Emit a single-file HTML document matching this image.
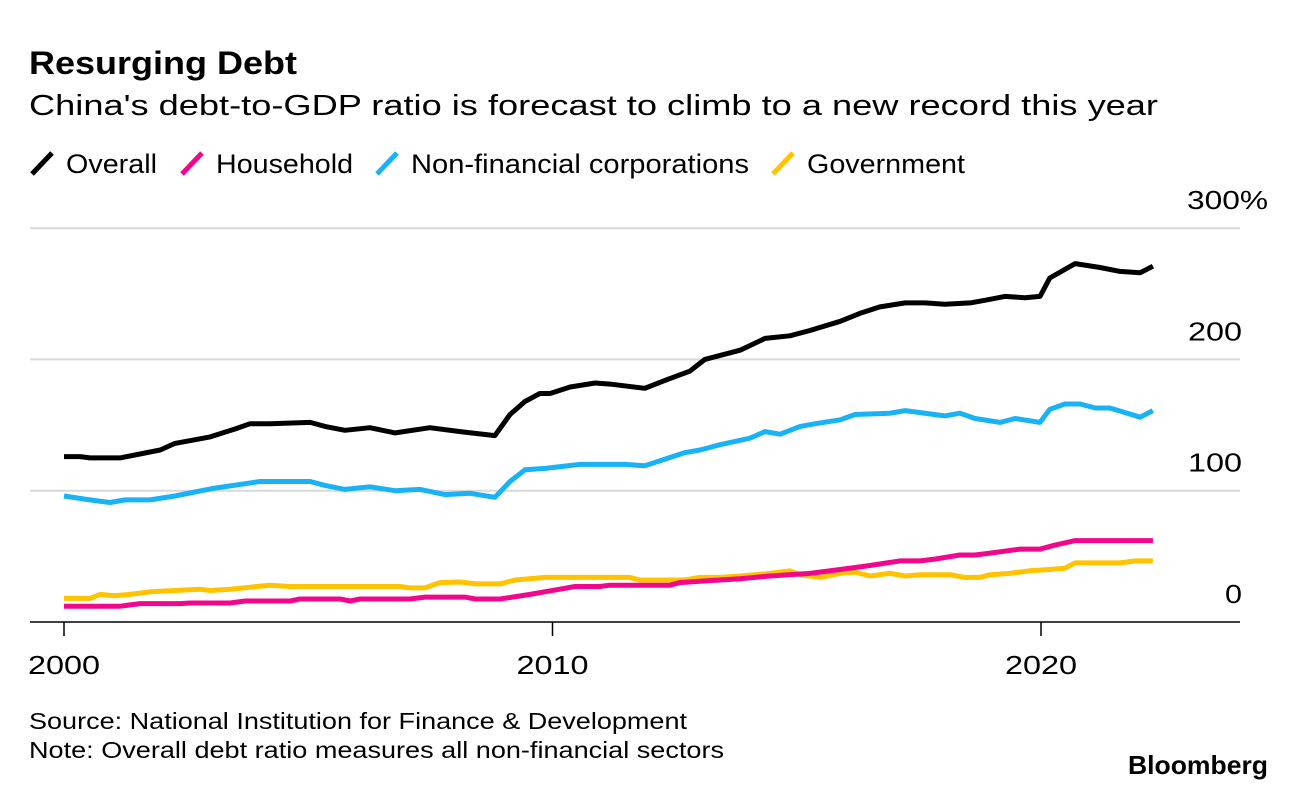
<!DOCTYPE html>
<html><head><meta charset="utf-8">
<style>
body{margin:0;background:#fff;width:1296px;height:790px;overflow:hidden;font-family:"Liberation Sans",sans-serif;}
</style></head>
<body>
<svg width="1296" height="790" xmlns="http://www.w3.org/2000/svg" font-family="Liberation Sans, sans-serif">
<text x="29" y="74" font-size="32" font-weight="bold" fill="#000" textLength="268" lengthAdjust="spacingAndGlyphs">Resurging Debt</text>
<text x="29" y="115" font-size="29" fill="#000" textLength="1129" lengthAdjust="spacingAndGlyphs">China's debt-to-GDP ratio is forecast to climb to a new record this year</text>
<g id="legend"></g>
<g id="grid"></g>
<g id="lines"></g>
<text x="29" y="729" font-size="23" fill="#000" textLength="658" lengthAdjust="spacingAndGlyphs">Source: National Institution for Finance &amp; Development</text>
<text x="29" y="758" font-size="23" fill="#000" textLength="695" lengthAdjust="spacingAndGlyphs">Note: Overall debt ratio measures all non-financial sectors</text>
<text x="1128" y="774" font-size="26" font-weight="bold" fill="#000" textLength="140" lengthAdjust="spacingAndGlyphs">Bloomberg</text>
</svg>
<script>
const yTicks=[0,100,200,300];
const yTickLabels=["0","100","200","300%"];
const xTicks=[2000,2010,2020];
const seriesNames=["Overall","Household","Non-financial corporations","Government"];
const seriesColors=["#000000","#f0078c","#19b2f5","#ffc300"];
const overallYears=[2000,2000.33,2000.53,2001.15,2001.97,2002.27,2002.99,2003.5,2003.81,2004.22,2005.04,2005.34,2005.75,2006.26,2006.78,2007.49,2008.11,2008.82,2009.13,2009.44,2009.74,2009.95,2010.36,2010.87,2011.22,2011.89,2012.3,2012.81,2013.12,2013.84,2014.35,2014.86,2015.27,2015.89,2016.29,2016.7,2017.22,2017.63,2018.03,2018.55,2018.85,2019.26,2019.67,2019.98,2020.18,2020.7,2021.21,2021.62,2022.03,2022.29];
const overallVals=[126,126,125,125,131,136,141,147,151,151,152,149,146,148,144,148,145,142,158,168,174,174,179,182,181,178,184,191,200,207,216,218,222,229,235,240,243,243,242,243,245,248,247,248,262,273,270,267,266,271];
const nfcYears=[2000,2000.53,2000.94,2001.25,2001.76,2002.27,2002.68,2003.09,2004.01,2005.04,2005.34,2005.75,2006.26,2006.78,2007.29,2007.8,2008.31,2008.82,2009.13,2009.44,2009.85,2010.56,2011.48,2011.89,2012.71,2013.02,2013.43,2014.04,2014.35,2014.66,2015.07,2015.38,2015.89,2016.19,2016.91,2017.22,2018.03,2018.34,2018.65,2019.16,2019.47,2019.98,2020.18,2020.49,2020.8,2021.11,2021.41,2022.03,2022.29];
const nfcVals=[96,93,91,93,93,96,99,102,107,107,104,101,103,100,101,97,98,95,107,116,117,120,120,119,129,131,135,140,145,143,149,151,154,158,159,161,157,159,155,152,155,152,162,166,166,163,163,156,161];
const hhYears=[2000,2001.15,2001.56,2002.38,2002.58,2003.4,2003.71,2004.63,2004.83,2005.65,2005.86,2006.06,2007.08,2007.39,2008.21,2008.42,2008.93,2009.54,2010.15,2010.46,2010.97,2011.17,2012.4,2012.61,2013.02,2013.84,2014.45,2015.27,2015.89,2016.5,2017.12,2017.53,2017.84,2018.34,2018.65,2018.96,2019.57,2019.98,2020.29,2020.7,2022.29];
const hhVals=[12,12,14,14,14.5,14.5,16,16,17.5,17.5,16,17.5,17.5,19,19,17.5,17.5,21,25,27,27,28,28,30,31,33,35,37,40,43,46.5,46.5,48,51,51,52.5,55.5,55.5,58.6,62,62];
const govYears=[2000,2000.53,2000.74,2001.04,2001.35,2001.76,2002.27,2002.78,2002.99,2003.4,2004.22,2004.63,2006.88,2007.08,2007.39,2007.7,2008.11,2008.42,2008.93,2009.23,2009.85,2010.15,2011.58,2011.79,2012.71,2013.02,2013.43,2013.84,2014.45,2014.86,2015.07,2015.48,2015.89,2016.19,2016.5,2016.91,2017.22,2017.53,2018.14,2018.44,2018.75,2018.96,2019.36,2019.77,2020.18,2020.49,2020.7,2021.62,2021.93,2022.29];
const govVals=[18,18,21,20,21,23,24,25,24,25,28,27,27,26,26,30,30.5,29,29,32,34,34,34,32,32,34,34,35,37,39,36,34,37,38,35,37,35,36,36,34,34,36,37,39,40,41,45,45,46.5,46.5];

const NS="http://www.w3.org/2000/svg";
const X0=30,X1=1240,Y0=622,PX=131.3;
const xs=y=>64+(y-2000)*48.85;
const ys=v=>Y0-v*PX/100;
function mk(tag,attrs,parent){const e=document.createElementNS(NS,tag);for(const k in attrs)e.setAttribute(k,attrs[k]);parent.appendChild(e);return e;}
const grid=document.getElementById('grid');
const yLabW={"0":17,"100":54,"200":54,"300%":81};
yTicks.forEach((t,i)=>{
  const l=mk('line',{x1:X0,x2:X1,y1:ys(t),y2:ys(t),stroke:t===0?'#000':'#d9d9d9','stroke-width':t===0?1.5:2},grid);
  
  
  const w=yLabW[yTickLabels[i]];
  const lx0=yTickLabels[i].endsWith('%')?1187:1242-w;
  const tx=mk('text',{x:lx0,y:ys(t)-19,'font-size':26,fill:'#000',textLength:w,lengthAdjust:'spacingAndGlyphs'},grid);
  tx.textContent=yTickLabels[i];
  
  
});
xTicks.forEach(t=>{
  const l=mk('line',{x1:xs(t),x2:xs(t),y1:Y0,y2:Y0+14,stroke:'#000','stroke-width':1.5},grid);
  
  
  const tx=mk('text',{x:xs(t)-36,y:674,'font-size':26,fill:'#000',textLength:72,lengthAdjust:'spacingAndGlyphs'},grid);
  tx.textContent=t;
  
  
});
const lines=document.getElementById('lines');
const data=[[govYears,govVals,3],[hhYears,hhVals,1],[nfcYears,nfcVals,2],[overallYears,overallVals,0]];
data.forEach(([yr,v,ci])=>{
  const d=yr.map((y,i)=>(i?'L':'M')+xs(y).toFixed(1)+','+ys(v[i]).toFixed(1)).join(' ');
  const p=mk('path',{d:d,fill:'none',stroke:seriesColors[ci],'stroke-width':5,'stroke-linejoin':'round'},lines);
  
  
});
const legend=document.getElementById('legend');
const lx=[30,180,375,771];
const lw=[91,137,338,158];
seriesNames.forEach((n,i)=>{
  const g=mk('g',{},legend);
  
  
  mk('line',{x1:lx[i]+2,y1:174,x2:lx[i]+22,y2:153,stroke:seriesColors[i],'stroke-width':5},g);
  const t=mk('text',{x:lx[i]+36,y:173,'font-size':27,fill:'#000',textLength:lw[i],lengthAdjust:'spacingAndGlyphs'},g);
  t.textContent=n;
});
</script>
</body></html>
